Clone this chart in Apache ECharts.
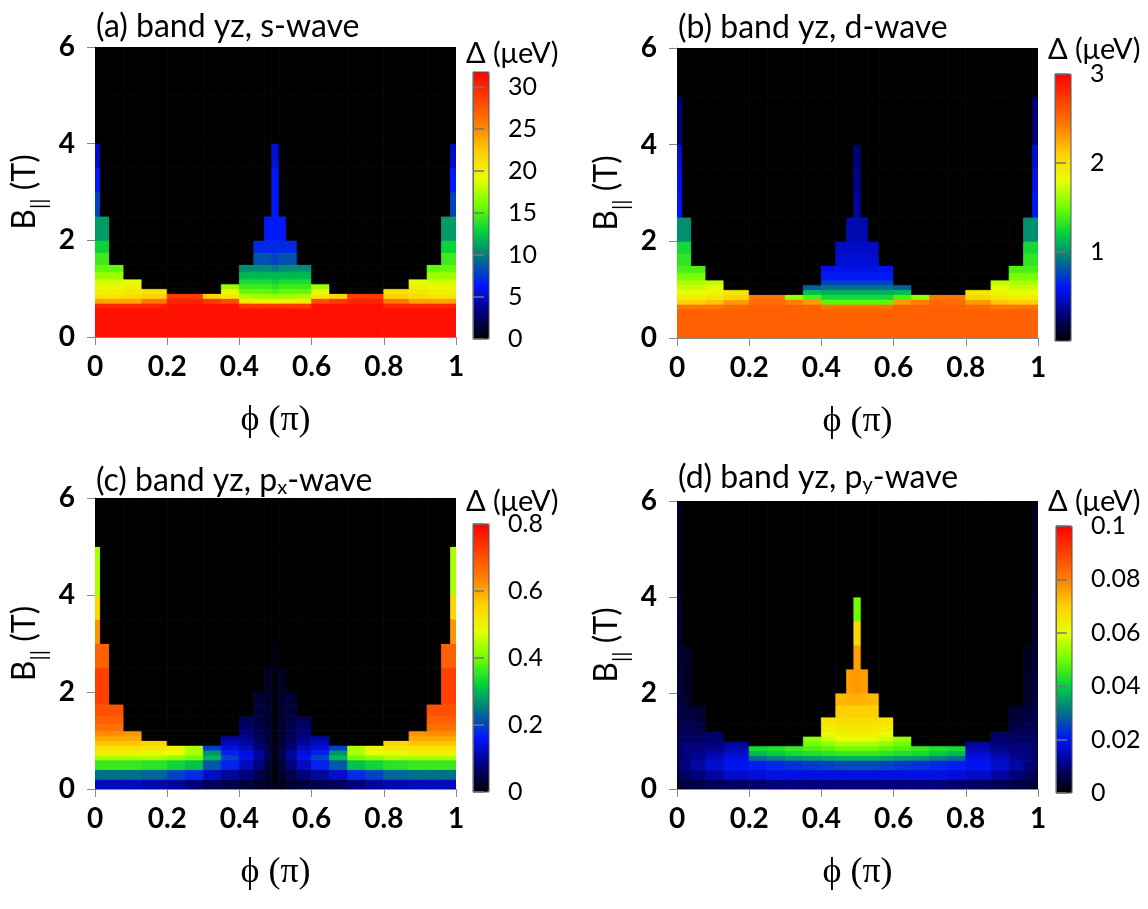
<!DOCTYPE html>
<html lang="en">
<head>
<meta charset="UTF-8">
<title>band yz gap maps</title>
<script src="https://cdn.jsdelivr.net/npm/echarts@6.0.0/dist/echarts.min.js"></script>
<style>
  html, body { margin: 0; padding: 0; background: #fff; }
  #main { width: 1148px; height: 909px; }
</style>
</head>
<body>
<div id="main"></div>
<script>
// cell edges (phi in units of pi, B in T)
var phiEdges = [0, 0.015, 0.04, 0.08, 0.13, 0.2, 0.25, 0.3, 0.35, 0.4, 0.44, 0.47, 0.49,
                0.51, 0.53, 0.56, 0.6, 0.65, 0.7, 0.75, 0.8, 0.87, 0.92, 0.96, 0.985, 1];
var bEdges = [0, 0.2, 0.4, 0.6, 0.7, 0.8, 0.9, 1.0, 1.1, 1.2, 1.35, 1.5, 1.75, 2.0, 2.5, 3.0, 3.5, 4.0, 5.0, 6.0];

// colorbar ticks
var cbTicksA = [0, 5, 10, 15, 20, 25, 30];
var cbTicksB = [1, 2, 3];
var cbTicksC = [0, 0.2, 0.4, 0.6, 0.8];
var cbTicksD = [0, 0.02, 0.04, 0.06, 0.08, 0.1];

// gap values, one row per B cell (bottom to top)
var gapS = [
  [31,31,31,31,31,31,31,31,31,31,31,31,31,31,31,31,31,31,31,31,31,31,31,31,31],
  [31,31,31,31,31,31,31,31,31,31,31,31,31,31,31,31,31,31,31,31,31,31,31,31,31],
  [31,31,31,31,31,31,31,31,31,31,31,31,31,31,31,31,31,31,31,31,31,31,31,31,31],
  [30,30,30,30,30,31,31,31,31,29,29,29,29,29,29,29,31,31,31,31,30,30,30,30,30],
  [24,24,24,24,26,30,30,29,28,20.5,20,20,19.5,20,20,20.5,28,29,30,30,26,24,24,24,24],
  [21,21,21,21.5,22,29,29,22,20.5,17.5,17,17,17,17,17,17.5,20.5,22,29,29,22,21.5,21,21,21],
  [20,20,20,20.5,21,0,0,0,19,15.5,15.5,15.5,15,15.5,15.5,15.5,19,0,0,0,21,20.5,20,20,20],
  [19.5,19.5,19.5,20,0,0,0,0,17,14.5,14.5,14.5,14,14.5,14.5,14.5,17,0,0,0,0,20,19.5,19.5,19.5],
  [18.5,18.5,18.5,19,0,0,0,0,0,13.5,13.5,13.5,13,13.5,13.5,13.5,0,0,0,0,0,19,18.5,18.5,18.5],
  [17,17,17,0,0,0,0,0,0,12,12,12,12,12,12,12,0,0,0,0,0,0,17,17,17],
  [15.5,15.5,15.5,0,0,0,0,0,0,10.5,10.5,10.5,10,10.5,10.5,10.5,0,0,0,0,0,0,15.5,15.5,15.5],
  [14.5,14.5,0,0,0,0,0,0,0,0,8.5,8.5,8,8.5,8.5,0,0,0,0,0,0,0,0,14.5,14.5],
  [13,13,0,0,0,0,0,0,0,0,7,7,7,7,7,0,0,0,0,0,0,0,0,13,13],
  [11,11,0,0,0,0,0,0,0,0,0,6.5,6.5,6.5,0,0,0,0,0,0,0,0,0,11,11],
  [8,0,0,0,0,0,0,0,0,0,0,0,6.5,0,0,0,0,0,0,0,0,0,0,0,8],
  [6.5,0,0,0,0,0,0,0,0,0,0,0,6.5,0,0,0,0,0,0,0,0,0,0,0,6.5],
  [5,0,0,0,0,0,0,0,0,0,0,0,5.5,0,0,0,0,0,0,0,0,0,0,0,5],
  [0,0,0,0,0,0,0,0,0,0,0,0,0,0,0,0,0,0,0,0,0,0,0,0,0],
  [0,0,0,0,0,0,0,0,0,0,0,0,0,0,0,0,0,0,0,0,0,0,0,0,0]
];

var gapD = [
  [2.55,2.55,2.55,2.55,2.55,2.55,2.55,2.55,2.55,2.55,2.55,2.55,2.55,2.55,2.55,2.55,2.55,2.55,2.55,2.55,2.55,2.55,2.55,2.55,2.55],
  [2.55,2.55,2.55,2.55,2.55,2.55,2.55,2.55,2.55,2.55,2.55,2.55,2.55,2.55,2.55,2.55,2.55,2.55,2.55,2.55,2.55,2.55,2.55,2.55,2.55],
  [2.55,2.55,2.55,2.55,2.55,2.55,2.55,2.55,2.55,2.55,2.55,2.55,2.55,2.55,2.55,2.55,2.55,2.55,2.55,2.55,2.55,2.55,2.55,2.55,2.55],
  [2.45,2.45,2.45,2.45,2.5,2.55,2.55,2.55,2.55,2.45,2.45,2.45,2.45,2.45,2.45,2.45,2.55,2.55,2.55,2.55,2.5,2.45,2.45,2.45,2.45],
  [2.1,2.1,2.1,2.15,2.3,2.5,2.5,2.4,2.3,1.45,1.45,1.45,1.45,1.45,1.45,1.45,2.3,2.4,2.5,2.5,2.3,2.15,2.1,2.1,2.1],
  [1.9,1.9,1.9,1.95,2.05,2.45,2.45,1.6,1.4,1.25,1.25,1.25,1.25,1.25,1.25,1.25,1.4,1.6,2.45,2.45,2.05,1.95,1.9,1.9,1.9],
  [1.8,1.8,1.8,1.85,1.95,0,0,0,1.15,1.1,1.1,1.1,1.1,1.1,1.1,1.1,1.15,0,0,0,1.95,1.85,1.8,1.8,1.8],
  [1.72,1.72,1.72,1.78,0,0,0,0,0.85,0.9,0.9,0.9,0.9,0.9,0.9,0.9,0.85,0,0,0,0,1.78,1.72,1.72,1.72],
  [1.65,1.65,1.65,1.7,0,0,0,0,0,0.75,0.75,0.75,0.75,0.75,0.75,0.75,0,0,0,0,0,1.7,1.65,1.65,1.65],
  [1.52,1.52,1.52,0,0,0,0,0,0,0.62,0.62,0.62,0.62,0.62,0.62,0.62,0,0,0,0,0,0,1.52,1.52,1.52],
  [1.4,1.4,1.4,0,0,0,0,0,0,0.55,0.55,0.55,0.55,0.55,0.55,0.55,0,0,0,0,0,0,1.4,1.4,1.4],
  [1.33,1.33,0,0,0,0,0,0,0,0,0.5,0.5,0.5,0.5,0.5,0,0,0,0,0,0,0,0,1.33,1.33],
  [1.25,1.25,0,0,0,0,0,0,0,0,0.47,0.47,0.47,0.47,0.47,0,0,0,0,0,0,0,0,1.25,1.25],
  [1.0,1.0,0,0,0,0,0,0,0,0,0,0.42,0.42,0.42,0,0,0,0,0,0,0,0,0,1.0,1.0],
  [0.6,0,0,0,0,0,0,0,0,0,0,0,0.37,0,0,0,0,0,0,0,0,0,0,0,0.6],
  [0.55,0,0,0,0,0,0,0,0,0,0,0,0.33,0,0,0,0,0,0,0,0,0,0,0,0.55],
  [0.5,0,0,0,0,0,0,0,0,0,0,0,0.3,0,0,0,0,0,0,0,0,0,0,0,0.5],
  [0.3,0,0,0,0,0,0,0,0,0,0,0,0,0,0,0,0,0,0,0,0,0,0,0,0.3],
  [0,0,0,0,0,0,0,0,0,0,0,0,0,0,0,0,0,0,0,0,0,0,0,0,0]
];

var gapPx = [
  [0.12,0.12,0.12,0.12,0.11,0.1,0.08,0.06,0.05,0.04,0.03,0.02,0.01,0.02,0.03,0.04,0.05,0.06,0.08,0.1,0.11,0.12,0.12,0.12,0.12],
  [0.24,0.24,0.24,0.24,0.23,0.2,0.18,0.13,0.1,0.08,0.05,0.03,0.01,0.03,0.05,0.08,0.1,0.13,0.18,0.2,0.23,0.24,0.24,0.24,0.24],
  [0.36,0.36,0.36,0.36,0.35,0.33,0.31,0.22,0.17,0.12,0.08,0.04,0.01,0.04,0.08,0.12,0.17,0.22,0.31,0.33,0.35,0.36,0.36,0.36,0.36],
  [0.44,0.44,0.44,0.44,0.44,0.42,0.4,0.3,0.2,0.15,0.1,0.05,0.01,0.05,0.1,0.15,0.2,0.3,0.4,0.42,0.44,0.44,0.44,0.44,0.44],
  [0.5,0.5,0.5,0.5,0.49,0.48,0.44,0.27,0.17,0.14,0.1,0.05,0.01,0.05,0.1,0.14,0.17,0.27,0.44,0.48,0.49,0.5,0.5,0.5,0.5],
  [0.53,0.53,0.53,0.53,0.52,0.5,0.44,0.2,0.14,0.12,0.08,0.045,0.01,0.045,0.08,0.12,0.14,0.2,0.44,0.5,0.52,0.53,0.53,0.53,0.53],
  [0.57,0.57,0.57,0.57,0.55,0,0,0,0.12,0.1,0.07,0.04,0.01,0.04,0.07,0.1,0.12,0,0,0,0.55,0.57,0.57,0.57,0.57],
  [0.6,0.6,0.6,0.6,0,0,0,0,0.1,0.09,0.06,0.04,0.01,0.04,0.06,0.09,0.1,0,0,0,0,0.6,0.6,0.6,0.6],
  [0.63,0.63,0.63,0.62,0,0,0,0,0,0.08,0.055,0.035,0.01,0.035,0.055,0.08,0,0,0,0,0,0.62,0.63,0.63,0.63],
  [0.66,0.66,0.66,0,0,0,0,0,0,0.07,0.05,0.035,0.01,0.035,0.05,0.07,0,0,0,0,0,0,0.66,0.66,0.66],
  [0.68,0.68,0.68,0,0,0,0,0,0,0.06,0.045,0.03,0.01,0.03,0.045,0.06,0,0,0,0,0,0,0.68,0.68,0.68],
  [0.7,0.7,0.7,0,0,0,0,0,0,0,0.04,0.03,0.01,0.03,0.04,0,0,0,0,0,0,0,0.7,0.7,0.7],
  [0.72,0.72,0,0,0,0,0,0,0,0,0.035,0.03,0.01,0.03,0.035,0,0,0,0,0,0,0,0,0.72,0.72],
  [0.72,0.72,0,0,0,0,0,0,0,0,0,0.025,0.01,0.025,0,0,0,0,0,0,0,0,0,0.72,0.72],
  [0.68,0.68,0,0,0,0,0,0,0,0,0,0,0.01,0,0,0,0,0,0,0,0,0,0,0.68,0.68],
  [0.62,0,0,0,0,0,0,0,0,0,0,0,0,0,0,0,0,0,0,0,0,0,0,0,0.62],
  [0.55,0,0,0,0,0,0,0,0,0,0,0,0,0,0,0,0,0,0,0,0,0,0,0,0.55],
  [0.44,0,0,0,0,0,0,0,0,0,0,0,0,0,0,0,0,0,0,0,0,0,0,0,0.44],
  [0,0,0,0,0,0,0,0,0,0,0,0,0,0,0,0,0,0,0,0,0,0,0,0,0]
];

var gapPy = [
  [0.004,0.005,0.006,0.007,0.008,0.009,0.01,0.01,0.01,0.01,0.01,0.01,0.01,0.01,0.01,0.01,0.01,0.01,0.01,0.009,0.008,0.007,0.006,0.005,0.004],
  [0.006,0.008,0.01,0.013,0.016,0.017,0.018,0.018,0.018,0.018,0.018,0.018,0.018,0.018,0.018,0.018,0.018,0.018,0.018,0.017,0.016,0.013,0.01,0.008,0.006],
  [0.008,0.01,0.013,0.016,0.019,0.021,0.022,0.023,0.024,0.025,0.026,0.026,0.026,0.026,0.026,0.025,0.024,0.023,0.022,0.021,0.019,0.016,0.013,0.01,0.008],
  [0.008,0.01,0.012,0.015,0.018,0.03,0.032,0.034,0.035,0.036,0.037,0.037,0.037,0.037,0.037,0.036,0.035,0.034,0.032,0.03,0.018,0.015,0.012,0.01,0.008],
  [0.008,0.01,0.011,0.013,0.016,0.038,0.04,0.042,0.043,0.044,0.045,0.045,0.045,0.045,0.045,0.044,0.043,0.042,0.04,0.038,0.016,0.013,0.011,0.01,0.008],
  [0.008,0.01,0.01,0.011,0.014,0.042,0.043,0.045,0.047,0.048,0.05,0.05,0.05,0.05,0.05,0.048,0.047,0.045,0.043,0.042,0.014,0.011,0.01,0.01,0.008],
  [0.007,0.009,0.009,0.01,0.012,0,0,0,0.05,0.053,0.055,0.055,0.055,0.055,0.055,0.053,0.05,0,0,0,0.012,0.01,0.009,0.009,0.007],
  [0.007,0.008,0.008,0.009,0,0,0,0,0.053,0.058,0.06,0.06,0.06,0.06,0.06,0.058,0.053,0,0,0,0,0.009,0.008,0.008,0.007],
  [0.007,0.008,0.007,0.008,0,0,0,0,0,0.061,0.063,0.063,0.063,0.063,0.063,0.061,0,0,0,0,0,0.008,0.007,0.008,0.007],
  [0.006,0.007,0.006,0,0,0,0,0,0,0.064,0.065,0.065,0.065,0.065,0.065,0.064,0,0,0,0,0,0,0.006,0.007,0.006],
  [0.006,0.006,0.005,0,0,0,0,0,0,0.066,0.067,0.067,0.067,0.067,0.067,0.066,0,0,0,0,0,0,0.005,0.006,0.006],
  [0.006,0.005,0.004,0,0,0,0,0,0,0,0.07,0.07,0.07,0.07,0.07,0,0,0,0,0,0,0,0.004,0.005,0.006],
  [0.005,0.004,0,0,0,0,0,0,0,0,0.073,0.074,0.074,0.074,0.073,0,0,0,0,0,0,0,0,0.004,0.005],
  [0.005,0.003,0,0,0,0,0,0,0,0,0,0.076,0.077,0.076,0,0,0,0,0,0,0,0,0,0.003,0.005],
  [0.004,0.003,0,0,0,0,0,0,0,0,0,0,0.076,0,0,0,0,0,0,0,0,0,0,0.003,0.004],
  [0.004,0,0,0,0,0,0,0,0,0,0,0,0.068,0,0,0,0,0,0,0,0,0,0,0,0.004],
  [0.004,0,0,0,0,0,0,0,0,0,0,0,0.05,0,0,0,0,0,0,0,0,0,0,0,0.004],
  [0.003,0,0,0,0,0,0,0,0,0,0,0,0,0,0,0,0,0,0,0,0,0,0,0,0.003],
  [0.003,0,0,0,0,0,0,0,0,0,0,0,0,0,0,0,0,0,0,0,0,0,0,0,0.003]
];

// black -> blue -> green -> yellow -> red
var gapColors = ['#000000', '#00007a', '#0014ff', '#00708a', '#00d040', '#70ff00',
                 '#e8ff00', '#ffd000', '#ff8000', '#ff4000', '#ff0000'];

var chart = echarts.init(document.getElementById('main'));

function toCells(rows) {
  var out = [];
  rows.forEach(function(row, j) {
    row.forEach(function(v, i) { out.push([i, j, v]); });
  });
  return out;
}

function renderCell(params, api) {
  var i = api.value(0), j = api.value(1);
  var p0 = api.coord([phiEdges[i], bEdges[j + 1]]);
  var p1 = api.coord([phiEdges[i + 1], bEdges[j]]);
  var c = api.visual('color');
  return {
    type: 'rect',
    shape: {x: p0[0], y: p0[1], width: p1[0] - p0[0], height: p1[1] - p0[1]},
    style: {fill: c, stroke: c, lineWidth: 0.8}
  };
}

var sans = 'Lato';
var panels = [
  {title: '(a) band yz, s-wave', rows: gapS, max: 31.8, ticks: cbTicksA,
   grid: {left: 95, top: 47, width: 361, height: 290}, bar: {left: 473, top: 72, height: 267},
   tx: 96, ty: 11, cx: 466, cy: 39},
  {title: '(b) band yz, d-wave', rows: gapD, max: 3, ticks: cbTicksB,
   grid: {left: 677, top: 48, width: 361, height: 290}, bar: {left: 1055, top: 74, height: 267},
   tx: 678, ty: 12, cx: 1048, cy: 35},
  {title: '(c) band yz, p{s|x}-wave', rows: gapPx, max: 0.8, ticks: cbTicksC,
   grid: {left: 95, top: 498, width: 361, height: 291}, bar: {left: 473, top: 524, height: 268},
   tx: 96, ty: 464, cx: 466, cy: 487},
  {title: '(d) band yz, p{s|y}-wave', rows: gapPy, max: 0.1, ticks: cbTicksD,
   grid: {left: 677, top: 501, width: 361, height: 288}, bar: {left: 1056, top: 526, height: 267},
   tx: 678, ty: 461, cx: 1048, cy: 487}
];

var option = {
  animation: false,
  backgroundColor: '#fff',
  title: [], grid: [], xAxis: [], yAxis: [], visualMap: [], series: []
};

panels.forEach(function(p, k) {
  option.title.push({
    text: p.title, left: p.tx, top: p.ty, padding: 0,
    textStyle: {fontFamily: sans, fontSize: 32, fontWeight: 'normal', color: '#000',
      rich: {s: {fontFamily: sans, fontSize: 20, color: '#000', padding: [14, 0, 0, 0]}}}
  });
  option.title.push({
    text: 'Δ (μeV)', left: p.cx, top: p.cy, padding: 0,
    textStyle: {fontFamily: sans, fontSize: 29, fontWeight: 'normal', color: '#000'}
  });
  option.grid.push(p.grid);
  option.xAxis.push({
    gridIndex: k, type: 'value', min: 0, max: 1, interval: 0.2,
    name: 'ϕ (π)', nameLocation: 'middle', nameGap: 66,
    nameTextStyle: {fontFamily: 'Liberation Serif', fontSize: 36, color: '#000'},
    axisLine: {show: true, lineStyle: {color: '#888', width: 1}},
    axisTick: {show: true, length: 8, lineStyle: {color: '#888'}},
    axisLabel: {fontFamily: sans, fontSize: 28, fontWeight: 'bold', color: '#000', margin: 16},
    splitLine: {show: false}
  });
  option.yAxis.push({
    gridIndex: k, type: 'value', min: 0, max: 6, interval: 2,
    name: '{a|B}{s|||}{a| (T)}', nameLocation: 'middle', nameGap: 45, nameRotate: 90,
    nameTextStyle: {
      rich: {
        a: {fontFamily: sans, fontSize: 32, color: '#000', lineHeight: 50, verticalAlign: 'middle'},
        s: {fontFamily: sans, fontSize: 21, color: '#000', lineHeight: 50, verticalAlign: 'bottom'}
      }
    },
    axisLine: {show: true, lineStyle: {color: '#888', width: 1}},
    axisTick: {show: true, length: 8, lineStyle: {color: '#888'}},
    axisLabel: {fontFamily: sans, fontSize: 28, fontWeight: 'bold', color: '#000', margin: 20},
    splitLine: {show: false}
  });
  option.visualMap.push({
    type: 'continuous', seriesIndex: k, dimension: 2, min: 0, max: p.max,
    inRange: {color: gapColors}, calculable: false, hoverLink: false,
    itemWidth: 16, itemHeight: p.bar.height, left: p.bar.left, top: p.bar.top,
    padding: 0
  });
  option.series.push({
    type: 'custom', xAxisIndex: k, yAxisIndex: k, clip: true,
    renderItem: renderCell, data: toCells(p.rows), silent: true
  });
});

// colorbar frames and tick axes
panels.forEach(function(p, k) {
  var g = 4 + k;
  option.grid.push({left: p.bar.left, top: p.bar.top, width: 16, height: p.bar.height,
    show: true, z: 10, backgroundColor: 'transparent', borderColor: '#555', borderWidth: 1});
  option.xAxis.push({gridIndex: g, type: 'value', show: false});
  option.yAxis.push({
    gridIndex: g, type: 'value', position: 'right', min: 0, max: p.max, z: 10,
    axisLine: {show: true, lineStyle: {color: '#666'}},
    axisTick: {show: true, length: 11, customValues: p.ticks, lineStyle: {color: '#777', width: 1.5}},
    axisLabel: {customValues: p.ticks, fontFamily: sans, fontSize: 25, color: '#000', margin: 19},
    splitLine: {show: false}
  });
});

chart.setOption(option);
</script>
</body>
</html>
